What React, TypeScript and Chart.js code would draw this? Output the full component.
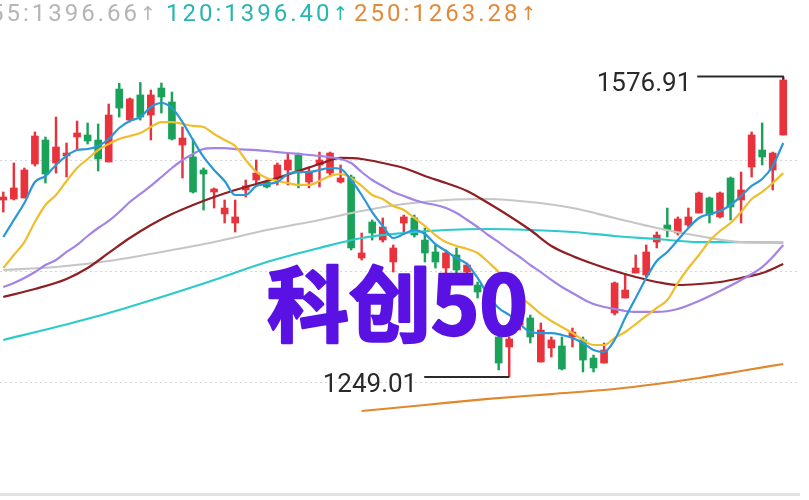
import React, { useEffect, useRef } from 'react';
import { Chart, registerables } from 'chart.js';

Chart.register(...registerables);

// ---- candle data (index 0..74) ----
const opens = [
  1443.1, 1444.2, 1445.3, 1482.6, 1508.9, 1483.7, 1491.4, 1512.2, 1514.4, 1508.9,
  1484.8, 1564.8, 1530.8, 1558.3, 1536.3, 1565.9, 1550.6, 1503.4, 1490.3, 1476.0,
  1451.9, 1427.8, 1417.9, 1454.1, 1465.0, 1462.8, 1467.2, 1476.0, 1492.5, 1462.8,
  1481.5, 1472.7, 1462.8, 1468.3, 1379.5, 1419.0, 1399.2, 1375.1, 1417.9, 1423.4,
  1399.2, 1386.1, 1368.5, 1382.8, 1364.1, 1349.9, 1333.4, 1292.9, 1281.9, 1306.0,
  1313.7, 1265.4, 1280.8, 1283.0, 1292.9, 1289.6, 1269.8, 1264.3, 1319.2, 1335.6,
  1363.0, 1360.9, 1397.0, 1415.7, 1406.9, 1415.7, 1428.8, 1445.3, 1424.5, 1467.2,
  1443.1, 1479.3, 1497.9, 1476.0, 1514.4,
];
const highs = [
  1451.9, 1483.7, 1478.2, 1517.7, 1512.2, 1534.1, 1505.6, 1529.7, 1527.6, 1526.5,
  1548.4, 1571.0, 1555.0, 1572.0, 1563.7, 1571.4, 1561.5, 1523.2, 1510.0, 1478.2,
  1456.3, 1443.1, 1443.1, 1465.0, 1487.0, 1465.0, 1483.7, 1494.6, 1494.6, 1479.3,
  1495.7, 1495.7, 1481.5, 1470.5, 1406.9, 1421.2, 1423.4, 1393.8, 1426.6, 1426.6,
  1412.4, 1393.8, 1388.3, 1390.5, 1374.0, 1353.2, 1335.6, 1297.2, 1292.9, 1322.5,
  1317.0, 1308.2, 1292.9, 1292.9, 1302.7, 1292.9, 1273.1, 1286.3, 1353.2, 1362.0,
  1382.8, 1393.8, 1408.0, 1434.3, 1424.5, 1434.3, 1451.9, 1446.4, 1451.9, 1468.3,
  1473.8, 1517.7, 1527.6, 1495.7, 1576.91,
];
const lows = [
  1429.9, 1443.1, 1445.3, 1480.4, 1461.7, 1472.7, 1468.3, 1499.0, 1504.5, 1474.9,
  1484.8, 1534.1, 1528.6, 1530.8, 1508.9, 1538.5, 1508.9, 1467.2, 1450.8, 1432.1,
  1434.3, 1417.9, 1408.0, 1446.4, 1459.6, 1456.3, 1459.6, 1459.6, 1456.3, 1456.3,
  1457.4, 1470.5, 1461.7, 1388.3, 1377.3, 1399.2, 1397.0, 1364.1, 1408.0, 1402.5,
  1375.1, 1368.5, 1360.9, 1355.4, 1352.1, 1335.6, 1311.5, 1256.7, 1249.01, 1300.5,
  1286.3, 1265.4, 1270.9, 1256.7, 1281.9, 1254.5, 1254.5, 1264.3, 1317.0, 1335.6,
  1363.0, 1358.7, 1390.5, 1402.5, 1404.7, 1413.5, 1428.8, 1417.9, 1423.4, 1421.2,
  1417.9, 1468.3, 1481.5, 1454.1, 1514.4,
];
const closes = [
  1446.4, 1456.3, 1476.0, 1513.3, 1471.6, 1501.2, 1494.6, 1516.6, 1507.8, 1488.1,
  1536.3, 1543.9, 1553.9, 1534.1, 1558.3, 1556.1, 1510.0, 1511.1, 1451.9, 1471.6,
  1455.2, 1434.3, 1424.5, 1458.5, 1472.7, 1457.4, 1481.5, 1487.0, 1472.7, 1473.8,
  1487.0, 1494.6, 1467.2, 1390.5, 1385.0, 1406.9, 1413.5, 1390.5, 1424.5, 1404.7,
  1385.0, 1375.1, 1385.0, 1366.3, 1371.8, 1342.2, 1317.0, 1264.3, 1290.7, 1317.0,
  1292.9, 1300.5, 1289.6, 1257.8, 1298.3, 1267.6, 1258.9, 1278.6, 1352.1, 1344.4,
  1368.5, 1386.1, 1404.7, 1410.2, 1422.3, 1424.5, 1450.8, 1426.7, 1450.8, 1435.4,
  1454.1, 1514.4, 1490.3, 1494.6, 1574.7,
];

// ---- moving averages ----
const ma5 = [
  1402.5, 1421.2, 1439.8, 1462.8, 1469.4, 1481.5, 1491.4, 1497.9, 1499.0, 1502.3,
  1510.0, 1522.1, 1529.7, 1534.1, 1545.1, 1549.5, 1544.0, 1528.6, 1508.9, 1490.3,
  1476.0, 1463.9, 1448.6, 1448.6, 1458.5, 1460.7, 1462.8, 1471.6, 1473.8, 1473.8,
  1476.0, 1478.2, 1477.1, 1465.0, 1448.6, 1429.9, 1414.6, 1401.4, 1405.8, 1410.2,
  1405.8, 1394.8, 1387.2, 1379.5, 1372.9, 1357.6, 1338.9, 1324.7, 1317.0, 1307.1,
  1298.3, 1297.2, 1297.2, 1295.1, 1291.8, 1286.3, 1278.6, 1276.4, 1289.6, 1313.7,
  1335.6, 1357.6, 1376.2, 1386.1, 1399.2, 1412.4, 1423.4, 1427.8, 1431.0, 1437.6,
  1447.5, 1458.5, 1466.1, 1480.4, 1505.6,
];
const ma10 = [
  1368.5, 1382.8, 1397.0, 1419.0, 1437.6, 1448.6, 1463.9, 1478.2, 1488.1, 1497.9,
  1504.5, 1510.0, 1513.3, 1516.6, 1523.2, 1528.6, 1528.6, 1526.5, 1524.3, 1523.2,
  1515.5, 1508.9, 1502.3, 1487.0, 1473.8, 1467.2, 1463.9, 1461.7, 1459.6, 1459.6,
  1463.9, 1469.4, 1471.6, 1467.2, 1458.5, 1448.6, 1444.2, 1436.5, 1432.1, 1423.4,
  1414.6, 1404.7, 1397.0, 1392.7, 1389.4, 1385.0, 1375.1, 1364.1, 1348.8, 1337.8,
  1328.0, 1318.1, 1310.4, 1303.8, 1297.2, 1289.6, 1284.1, 1284.1, 1291.8, 1298.3,
  1307.1, 1315.9, 1324.7, 1333.4, 1352.1, 1368.5, 1382.8, 1398.1, 1409.1, 1417.9,
  1429.9, 1444.2, 1451.9, 1461.7, 1472.7,
];
const ma20Idx = [0,1,2,3,4,5,6,7,8,9,10,11,12,13,14,15,16,17,18,19,20,21,22,24,26,28,30,32,33,34,35,36,37,38,39,40,41,42,43,44,45,46,47,48,49,50,51,52,53,54,55,56,57,58,59,60,62,64,66,68,70,72,73,74];
const ma20 = [
  1347.7, 1352.1, 1357.6, 1364.1, 1371.8, 1377.3, 1386.1, 1393.8, 1403.6, 1412.4,
  1420.1, 1429.9, 1440.9, 1449.7, 1458.5, 1468.3, 1478.2, 1487.0, 1493.6, 1499.0,
  1500.1, 1500.1, 1499.0, 1497.9, 1495.7, 1493.6, 1491.4, 1488.1,
  1483.7, 1473.8, 1465.0, 1458.5, 1451.9, 1447.5, 1443.1, 1439.8, 1437.6, 1434.3,
  1428.8, 1421.2, 1413.5, 1404.7, 1397.0, 1388.3, 1380.6, 1371.8, 1364.1, 1355.4,
  1347.7, 1341.1, 1334.5, 1329.0, 1325.8, 1323.6, 1321.4, 1320.3,
  1320.3, 1323.6, 1332.3, 1343.3, 1355.4, 1369.6, 1380.6, 1393.8,
];
const ma30Idx = [0,3,6,8,10,12,14,16,18,20,22,24,26,28,30,32,34,36,38,40,42,44,46,48,50,52,54,56,58,60,62,64,66,68,70,72,74];
const ma30 = [
  1336.7, 1345.5, 1356.5, 1368.5, 1385.0, 1401.4, 1415.7, 1427.8, 1437.6, 1446.4,
  1454.1, 1460.7, 1467.2, 1474.9, 1482.6, 1489.2, 1488.1, 1483.7, 1478.2, 1469.4,
  1461.7, 1453.0, 1439.8, 1425.6, 1410.2, 1392.7, 1381.7, 1372.9, 1365.2, 1358.7,
  1353.2, 1349.9, 1351.0, 1353.2, 1357.6, 1363.0, 1372.9,
];
const longIdx = [0,5,10,15,20,25,30,34,38,42,46,50,54,58,62,66,70,74];
const ma55 = [1366.3, 1369.6, 1376.2, 1386.1, 1397.0, 1410.2, 1421.2, 1431.0, 1438.7, 1443.1, 1444.2, 1440.9, 1434.3, 1423.4, 1412.4, 1403.6, 1397.0, 1396.66];
const ma120 = [1289.6, 1303.8, 1319.2, 1336.7, 1355.4, 1375.1, 1390.5, 1401.4, 1406.9, 1410.2, 1411.3, 1410.2, 1408.0, 1403.6, 1400.3, 1397.0, 1397.0, 1396.40];
const ma250Idx = [34,40,46,52,58,62,66,70,74];
const ma250 = [1211.7, 1218.3, 1224.9, 1230.3, 1235.8, 1241.3, 1247.9, 1255.6, 1263.28];

// ---- labels / texts ----
const legendPeriods = ['55', '120', '250'];
const legendValues = [1396.66, 1396.40, 1263.28];
const legendColors = ['#b5b5b5', '#27b6b0', '#e3893a'];
const legendX = [-10, 166, 354];
const title = '科创50';
const highLabelIdx = 74;
const highLabelVal = 1576.91;
const lowLabelIdx = 48;
const lowLabelVal = 1249.01;
const gridValues = [1487.5, 1365.2, 1243.0];
const yMin = 1120.67;
const yMax = 1609.8;

const RED = '#e8333d';
const GREEN = '#1ba25a';

function pts(idx: number[], vals: number[]) {
  return vals.map((v, k) => ({ x: idx[k], y: v }));
}
const allIdx = opens.map((_, i) => i);

export default function App() {
  const ref = useRef<HTMLCanvasElement | null>(null);

  useEffect(() => {
    if (!ref.current) return;
    const colors = opens.map((o, i) => (closes[i] >= o ? RED : GREEN));
    const line = (data: any[], color: string, width = 2.2) => ({
      type: 'line' as const,
      data,
      borderColor: color,
      borderWidth: width,
      pointRadius: 0,
      fill: false,
      cubicInterpolationMode: 'monotone' as const,
      order: 1,
    });

    const overlay = {
      id: 'overlay',
      beforeDatasetsDraw(chart: any) {
        const { ctx, chartArea, scales } = chart;
        const y = scales.y;
        ctx.save();
        ctx.strokeStyle = '#d6d6d6';
        ctx.lineWidth = 1;
        ctx.setLineDash([2, 3]);
        gridValues.forEach((v) => {
          const py = Math.round(y.getPixelForValue(v)) + 0.5;
          ctx.beginPath();
          ctx.moveTo(chartArea.left, py);
          ctx.lineTo(chartArea.right, py);
          ctx.stroke();
        });
        ctx.setLineDash([]);
        ctx.strokeStyle = '#e2e2e2';
        ctx.lineWidth = 3;
        ctx.beginPath();
        ctx.moveTo(chartArea.left, chartArea.bottom + 0.5);
        ctx.lineTo(chartArea.right, chartArea.bottom + 0.5);
        ctx.stroke();
        ctx.restore();
      },
      afterDatasetsDraw(chart: any) {
        const { ctx, scales } = chart;
        const x = scales.x;
        const y = scales.y;
        ctx.save();

        // title
        ctx.font = 'bold 82px "Noto Sans CJK SC"';
        ctx.textAlign = 'left';
        ctx.textBaseline = 'alphabetic';
        ctx.fillStyle = '#5a12e4';
        ctx.strokeStyle = '#5a12e4';
        ctx.lineWidth = 2.5;
        ctx.lineJoin = 'round';
        ctx.strokeText(title, 267, 335);
        ctx.fillText(title, 267, 335);

        // high / low annotations
        ctx.strokeStyle = '#2a2a2a';
        ctx.fillStyle = '#2a2a2a';
        ctx.lineWidth = 2;
        const xh = x.getPixelForValue(highLabelIdx);
        const yh = y.getPixelForValue(highLabelVal) - 1.5;
        ctx.beginPath();
        ctx.moveTo(xh - 86, yh);
        ctx.lineTo(xh, yh);
        ctx.lineTo(xh, yh + 3);
        ctx.stroke();
        const xl = x.getPixelForValue(lowLabelIdx);
        const yl = y.getPixelForValue(lowLabelVal);
        ctx.beginPath();
        ctx.moveTo(xl - 85, yl);
        ctx.lineTo(xl, yl);
        ctx.stroke();
        ctx.font = '26px Roboto';
        ctx.textAlign = 'right';
        ctx.fillText(highLabelVal.toFixed(2), xh - 92, yh + 15);
        ctx.fillText(lowLabelVal.toFixed(2), xl - 92, yl + 15);

        // top legend
        ctx.textAlign = 'left';
        legendPeriods.forEach((p, i) => {
          ctx.font = '24px Roboto';
          (ctx as any).letterSpacing = '3px';
          ctx.fillStyle = legendColors[i];
          const txt = `${p}:${legendValues[i].toFixed(2)}`;
          ctx.fillText(txt, legendX[i], 21);
          const w = ctx.measureText(txt).width;
          (ctx as any).letterSpacing = '0px';
          ctx.font = '19px Roboto, "DejaVu Sans"';
          ctx.fillText('↑', legendX[i] + w, 20);
        });
        ctx.restore();
      },
    };

    const chart = new Chart(ref.current, {
      type: 'bar',
      data: {
        datasets: [
          line(pts(allIdx, ma5), '#2a98d8'),
          line(pts(allIdx, ma10), '#f0be2c'),
          line(pts(ma20Idx, ma20), '#a283e6'),
          line(pts(ma30Idx, ma30), '#8e1f22'),
          line(pts(longIdx, ma55), '#c6c6c6'),
          line(pts(longIdx, ma120), '#2ccaca'),
          line(pts(ma250Idx, ma250), '#e1872d'),
          {
            type: 'bar',
            data: opens.map((o, i) => ({ x: i, y: [o, closes[i]] })),
            backgroundColor: colors,
            barThickness: 7,
            minBarLength: 1.5,
            grouped: false,
            borderWidth: 0,
            order: 2,
          } as any,
          {
            type: 'bar',
            data: lows.map((l, i) => ({ x: i, y: [l, highs[i]] })),
            backgroundColor: colors,
            barThickness: 1.8,
            grouped: false,
            borderWidth: 0,
            order: 3,
          } as any,
        ],
      },
      options: {
        animation: false,
        responsive: false,
        maintainAspectRatio: false,
        devicePixelRatio: 1,
        events: [],
        layout: { padding: { top: 48, bottom: 6, left: 0, right: 9 } },
        plugins: { legend: { display: false }, tooltip: { enabled: false } },
        scales: {
          x: { type: 'linear', min: -0.313, max: 75.59, display: false, offset: false },
          y: { type: 'linear', min: yMin, max: yMax, display: false, beginAtZero: false },
        },
      },
      plugins: [overlay],
    } as any);
    return () => chart.destroy();
  }, []);

  return (
    <div style={{ position: 'absolute', left: 0, top: 0, width: 809, height: 500, background: '#fff' }}>
      <canvas ref={ref} width={809} height={500} />
    </div>
  );
}
